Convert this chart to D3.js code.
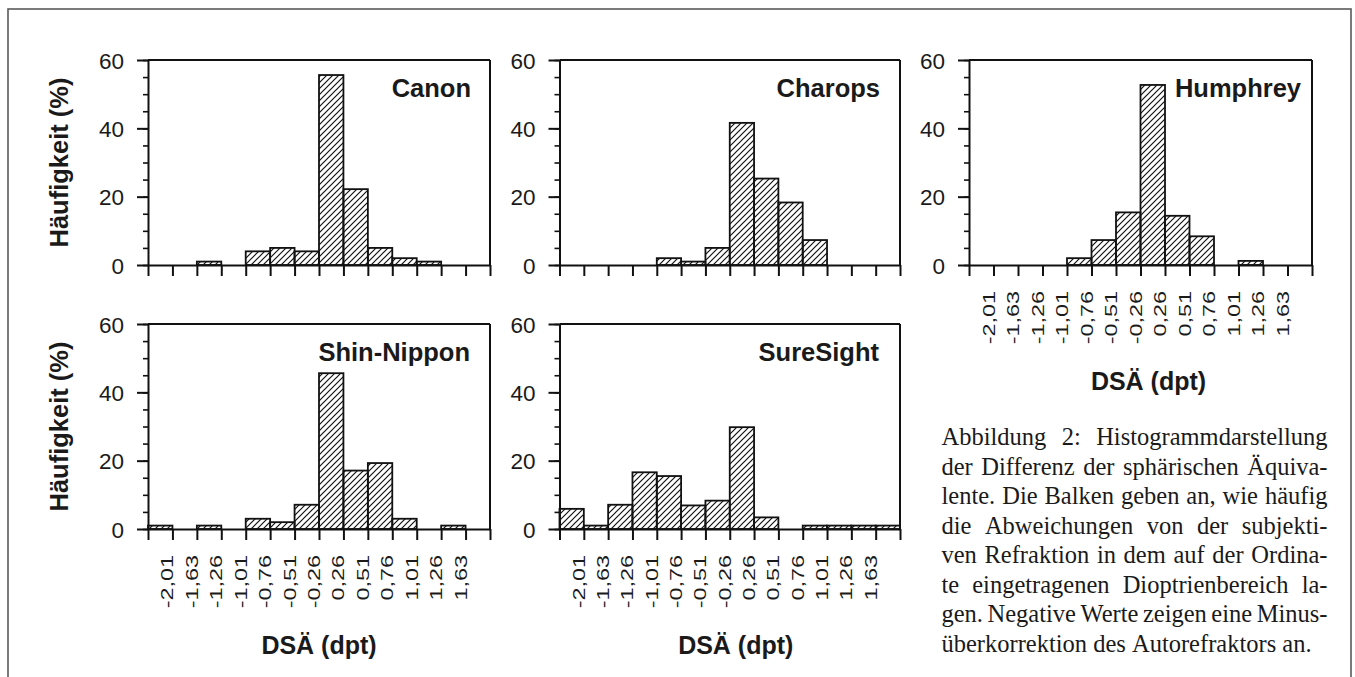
<!DOCTYPE html>
<html>
<head>
<meta charset="utf-8">
<script src="https://cdn.jsdelivr.net/npm/d3@7"></script>
<style>
  html, body { margin: 0; padding: 0; background: #fff; }
  svg { display: block; }
</style>
</head>
<body>
<div id="chart"></div>
<script>
// bin edges in dpt (labels sit on the inner bin boundaries)
var binLabels = ["-2,01", "-1,63", "-1,26", "-1,01", "-0,76", "-0,51", "-0,26",
                 "0,26", "0,51", "0,76", "1,01", "1,26", "1,63"];

// Häufigkeit (%) per bin, 14 bins each
var canonValues      = [0, 0, 1, 0, 4, 5, 4, 55.6, 22.2, 5, 2, 1, 0, 0];
var charopsValues    = [0, 0, 0, 0, 2, 1, 5, 41.6, 25.3, 18.3, 7.3, 0, 0, 0];
var humphreyValues   = [0, 0, 0, 0, 2, 7.3, 15.4, 52.7, 14.4, 8.4, 0, 1.2, 0, 0];
var shinNipponValues = [1, 0, 1, 0, 3, 2, 7.1, 45.6, 17.1, 19.3, 3, 0, 1, 0];
var sureSightValues  = [5.9, 1, 7.1, 16.6, 15.5, 6.9, 8.3, 29.8, 3.4, 0, 1, 1, 1, 1];

var yTicks = [0, 20, 40, 60];
var yMax = 60;

var captionLines = [
  "Abbildung 2: Histogrammdarstellung",
  "der Differenz der sphärischen Äquiva-",
  "lente. Die Balken geben an, wie häufig",
  "die Abweichungen von der subjekti-",
  "ven Refraktion in dem auf der Ordina-",
  "te eingetragenen Dioptrienbereich la-",
  "gen. Negative Werte zeigen eine Minus-",
  "überkorrektion des Autorefraktors an."
];

var width = 1355, height = 677;
var sans = "'Liberation Sans', Arial, Helvetica, sans-serif";
var serif = "'Liberation Serif', 'Times New Roman', serif";
var ink = "#1a1a1a";

// layout of the five panels
var panels = [
  { name: "Canon",       values: canonValues,      x0: 148,   x1: 490,  top: 60,  base: 265, yTitle: true,  xLabels: false, titlePad: 19, xTitleShift: 0 },
  { name: "Charops",     values: charopsValues,    x0: 559.5, x1: 900,  top: 60,  base: 265, yTitle: false, xLabels: false, titlePad: 20, xTitleShift: 0 },
  { name: "Humphrey",    values: humphreyValues,   x0: 969,   x1: 1312, top: 60,  base: 265, yTitle: false, xLabels: true,  titlePad: 11, xTitleShift: 8 },
  { name: "Shin-Nippon", values: shinNipponValues, x0: 148,   x1: 490,  top: 324, base: 529, yTitle: true,  xLabels: true,  titlePad: 20, xTitleShift: 0 },
  { name: "SureSight",   values: sureSightValues,  x0: 559.5, x1: 900,  top: 324, base: 529, yTitle: false, xLabels: true,  titlePad: 21, xTitleShift: 6 }
];

var svg = d3.select("#chart").append("svg")
    .attr("width", width)
    .attr("height", height);

svg.append("rect").attr("width", width).attr("height", height).attr("fill", "#fff");

// diagonal hatch for the bars
var defs = svg.append("defs");
defs.append("pattern")
    .attr("id", "hatch")
    .attr("patternUnits", "userSpaceOnUse")
    .attr("width", 6)
    .attr("height", 6)
  .append("path")
    .attr("d", "M-1,1 l2,-2 M0,6 l6,-6 M5,7 l2,-2")
    .attr("stroke", "#111")
    .attr("stroke-width", 1.2);

// outer figure border (bottom edge runs off the page)
svg.append("rect")
    .attr("x", 8).attr("y", 9)
    .attr("width", 1343).attr("height", 720)
    .attr("fill", "none")
    .attr("stroke", "#5a5a5a")
    .attr("stroke-width", 1.6);

panels.forEach(drawPanel);
drawCaption();

function drawPanel(p) {
    var g = svg.append("g").attr("class", "panel");
    var nBins = p.values.length;

    var x = d3.scaleLinear().domain([0, nBins]).range([p.x0, p.x1]);
    var y = d3.scaleLinear().domain([0, yMax]).range([p.base, p.top]);

    // bars
    g.selectAll("rect.bar")
        .data(p.values.map(function(v, i) { return { i: i, v: v }; })
                      .filter(function(d) { return d.v > 0; }))
        .enter()
        .append("rect")
        .attr("class", "bar")
        .attr("x", function(d) { return x(d.i); })
        .attr("y", function(d) { return y(d.v); })
        .attr("width", function(d) { return x(d.i + 1) - x(d.i); })
        .attr("height", function(d) { return y(0) - y(d.v); })
        .attr("fill", "url(#hatch)")
        .attr("stroke", "#111")
        .attr("stroke-width", 1.8);

    // frame: top and right
    g.append("line")
        .attr("x1", p.x0).attr("x2", p.x1)
        .attr("y1", p.top).attr("y2", p.top)
        .attr("stroke", "#111").attr("stroke-width", 2);
    g.append("line")
        .attr("x1", p.x1).attr("x2", p.x1)
        .attr("y1", p.top).attr("y2", p.base)
        .attr("stroke", "#111").attr("stroke-width", 2);

    // minor y ticks
    var yMinor = g.append("g")
        .attr("transform", "translate(" + p.x0 + ",0)")
        .call(d3.axisLeft(y).tickValues(d3.range(0, yMax + 1, 5)).tickSize(5).tickSizeOuter(0).tickFormat(""));
    yMinor.select(".domain").remove();
    yMinor.selectAll("line").attr("stroke", "#111").attr("stroke-width", 1.6);

    // major y ticks + labels
    var yAxis = g.append("g")
        .attr("transform", "translate(" + p.x0 + ",0)")
        .call(d3.axisLeft(y).tickValues(yTicks).tickSize(11).tickSizeOuter(0).tickFormat(d3.format("d")));
    yAxis.select(".domain").attr("stroke", "#111").attr("stroke-width", 2);
    yAxis.selectAll("line").attr("stroke", "#111").attr("stroke-width", 2);
    yAxis.selectAll("text")
        .attr("x", -24)
        .attr("dy", "0.36em")
        .style("font-family", sans)
        .style("font-size", "22.5px")
        .attr("fill", ink);

    // x axis: ticks on every bin edge
    var xAxis = g.append("g")
        .attr("transform", "translate(0," + p.base + ")")
        .call(d3.axisBottom(x).tickValues(d3.range(0, nBins + 1)).tickSize(11).tickSizeOuter(0).tickFormat(""));
    xAxis.select(".domain").attr("stroke", "#111").attr("stroke-width", 2);
    xAxis.selectAll("line").attr("stroke", "#111").attr("stroke-width", 2);

    if (p.xLabels) {
        g.selectAll("text.xlab")
            .data(binLabels)
            .enter()
            .append("text")
            .attr("class", "xlab")
            .attr("transform", function(d, i) {
                return "translate(" + (x(i + 1) + 1) + "," + (p.base + 26) + ") rotate(-90) scale(1.42,1)";
            })
            .attr("text-anchor", "end")
            .style("font-family", sans)
            .style("font-size", "16.5px")
            .attr("fill", ink)
            .text(function(d) { return d; });

        g.append("text")
            .attr("x", (p.x0 + p.x1) / 2 + p.xTitleShift)
            .attr("y", p.base + 125)
            .attr("text-anchor", "middle")
            .style("font-family", sans)
            .style("font-size", "25px")
            .style("font-weight", "bold")
            .attr("fill", ink)
            .text("DSÄ (dpt)");
    }

    if (p.yTitle) {
        g.append("text")
            .attr("transform", "translate(68," + ((p.top + p.base) / 2) + ") rotate(-90)")
            .attr("text-anchor", "middle")
            .style("font-family", sans)
            .style("font-size", "25.5px")
            .style("font-weight", "bold")
            .attr("fill", ink)
            .text("Häufigkeit (%)");
    }

    // device name
    g.append("text")
        .attr("x", p.x1 - p.titlePad)
        .attr("y", p.top + 37)
        .attr("text-anchor", "end")
        .style("font-family", sans)
        .style("font-size", "25.5px")
        .style("font-weight", "bold")
        .attr("fill", ink)
        .text(p.name);
}

function drawCaption() {
    var left = 941.5, right = 1327.5, firstBase = 445, step = 29.5;
    var g = svg.append("g").attr("class", "caption")
        .style("font-family", serif)
        .style("font-size", "24.5px")
        .attr("fill", ink);

    captionLines.forEach(function(line, li) {
        var words = line.split(" ");
        var yy = firstBase + li * step;
        var nodes = words.map(function(w) {
            return g.append("text").attr("y", yy).text(w);
        });
        var widths = nodes.map(function(n) { return n.node().getComputedTextLength(); });
        var total = d3.sum(widths);
        var last = li === captionLines.length - 1;
        var gap = (!last && words.length > 1) ? (right - left - total) / (words.length - 1) : 6.1;
        var cx = left;
        nodes.forEach(function(n, k) {
            n.attr("x", cx);
            cx += widths[k] + gap;
        });
    });
}
</script>
</body>
</html>
